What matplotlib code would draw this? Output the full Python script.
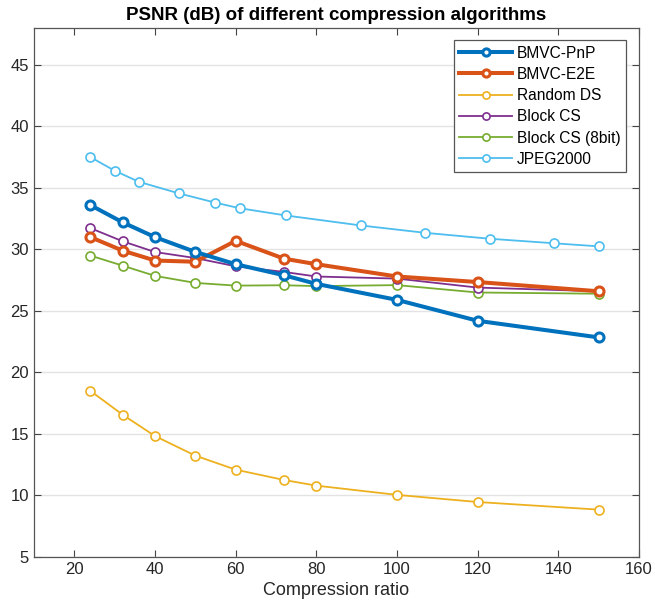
import matplotlib.pyplot as plt

plt.rcParams['font.family'] = ['Liberation Sans', 'DejaVu Sans']

# compression ratios
ratio = [24, 32, 40, 50, 60, 72, 80, 100, 120, 150]
ratio_jpeg = [24, 30, 36, 46, 55, 61, 72.5, 91, 107, 123, 139, 150]

# PSNR (dB)
bmvc_pnp = [33.6, 32.2, 31.0, 29.8, 28.8, 27.9, 27.2, 25.9, 24.2, 22.85]
bmvc_e2e = [31.0, 29.9, 29.1, 29.0, 30.7, 29.25, 28.8, 27.8, 27.35, 26.6]
random_ds = [18.5, 16.56, 14.83, 13.24, 12.1, 11.26, 10.8, 10.05, 9.47, 8.85]
block_cs = [31.73, 30.66, 29.79, 29.3, 28.63, 28.17, 27.8, 27.63, 26.9, 26.6]
block_cs_8bit = [29.5, 28.68, 27.85, 27.28, 27.06, 27.09, 27.02, 27.1, 26.5, 26.4]
jpeg2000 = [37.5, 36.4, 35.5, 34.55, 33.8, 33.35, 32.76, 31.95, 31.35, 30.87, 30.5, 30.25]

fig = plt.figure(figsize=(6.55, 6.1), dpi=100)
ax = fig.add_axes([34 / 655, 1 - 557 / 610, 605 / 655, 529 / 610])

thick = dict(linewidth=2.9, marker='o', markersize=6.5,
             markerfacecolor='white', markeredgewidth=2.2)
thin = dict(linewidth=1.3, marker='o', markersize=6.5,
            markerfacecolor='white', markeredgewidth=1.2)

ax.plot(ratio, bmvc_pnp, color='#0072BD', label='BMVC-PnP', zorder=8, **thick)
ax.plot(ratio, bmvc_e2e, color='#D95319', label='BMVC-E2E', zorder=7, **thick)
ax.plot(ratio, random_ds, color='#EDB120', label='Random DS', zorder=6, **thin)
ax.plot(ratio, block_cs, color='#7E2F8E', label='Block CS', zorder=6, **thin)
ax.plot(ratio, block_cs_8bit, color='#77AC30', label='Block CS (8bit)', zorder=5, **thin)
ax.plot(ratio_jpeg, jpeg2000, color='#4DBEEE', label='JPEG2000', zorder=5, **thin)

ax.set_xlim(10, 160)
ax.set_ylim(5, 48)
ax.set_xticks(range(20, 161, 20))
ax.set_yticks(range(5, 46, 5))

ax.yaxis.grid(True, color='#e3e3e3', linewidth=1)
ax.set_axisbelow(True)

ax.tick_params(direction='in', top=True, right=True, length=5,
               width=0.8, color='#444444', labelsize=12, labelcolor='#262626')
for s in ax.spines.values():
    s.set_color('#555555')
    s.set_linewidth(0.9)

ax.set_xlabel('Compression ratio', fontsize=13, color='#262626', labelpad=4)
ax.set_title('PSNR (dB) of different compression algorithms',
             fontsize=13.5, fontweight='bold', pad=6)

leg = ax.legend(loc='upper right', bbox_to_anchor=(0.9785, 0.977),
                borderaxespad=0, fontsize=11.2, handlelength=3.4,
                labelspacing=0.4, fancybox=False, framealpha=1,
                edgecolor='#555555', borderpad=0.35, handletextpad=0.3,
                markerscale=0.8)
leg.get_frame().set_linewidth(0.9)

fig.savefig('out.png', dpi=100)
